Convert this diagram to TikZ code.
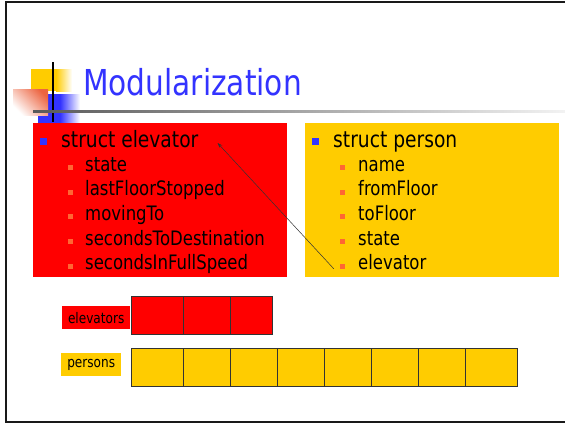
\documentclass[tikz,border=0pt]{standalone}
\usepackage{fontspec}
\setmainfont[FakeStretch=0.83]{DejaVu Sans}
\usetikzlibrary{arrows.meta}

\definecolor{elevred}{RGB}{255,0,0}
\definecolor{persyellow}{RGB}{255,204,0}
\definecolor{titleblue}{RGB}{51,51,255}
\definecolor{bulorange}{RGB}{255,102,51}
\definecolor{bulblue}{RGB}{51,51,255}
\definecolor{salmon}{RGB}{236,100,64}

\begin{document}
\begin{tikzpicture}[x=1pt,y=-1pt,
    topbul/.style={fill=bulblue,inner sep=0,minimum size=7pt},
    subbul/.style={fill=bulorange,inner sep=0,minimum size=5pt},
    headtxt/.style={anchor=base west,inner sep=0,font=\fontsize{22.5}{27}\selectfont},
    itemtxt/.style={anchor=base west,inner sep=0,font=\fontsize{19.9}{23}\selectfont},
    structbox/.style={anchor=north west,inner sep=0,minimum width=254pt,minimum height=154pt},
    cell/.style={draw=black!80,line width=1pt,anchor=north west,inner sep=0,minimum height=38pt},
    tag/.style={anchor=north west,inner sep=0,minimum height=23pt,font=\fontsize{14.6}{17}\selectfont}]
    \useasboundingbox (0,0) rectangle (565,424);
    % slide frame
    \draw[line width=2.5pt,black!90] (570,2) -- (6,2) -- (6,422) -- (570,422);

    % title decoration
    \fill[persyellow] (31,69) rectangle (56,91);
    \shade[left color=persyellow,right color=white] (56,69) rectangle (72,91);
    \fill[bulblue] (38,94) rectangle (60,123);
    \shade[left color=bulblue,right color=white] (60,94) rectangle (80,123);
    \shade[top color=salmon,bottom color=white,shading angle=-45] (13,89) rectangle (48,115);
    \draw[line width=1.5pt] (53,62) -- (53,122);
    \shade[left color=black!65,right color=black!5] (33,110.3) rectangle (565,112);
    \node[anchor=base west,inner sep=0,text=titleblue,font=\fontsize{35.7}{40}\selectfont] (title) at (83,95) {Modularization};

    % struct elevator
    \node[structbox,fill=elevred] (elevbox) at (33,123) {};
    \node[topbul] (eb0) at (43.5,141) {};
    \node[headtxt] (etitle) at (61,147) {struct elevator};
    \foreach \txt [count=\i] in {state,lastFloorStopped,movingTo,secondsToDestination,secondsInFullSpeed} {
        \node[subbul] (eb\i) at (70.5,{142.8+24.7*\i}) {};
        \node[itemtxt] (e\i) at (85,{146.3+24.7*\i}) {\txt};
    }

    % struct person
    \node[structbox,fill=persyellow] (persbox) at (305,123) {};
    \node[topbul] (pb0) at (315.5,141) {};
    \node[headtxt] (ptitle) at (333,147) {struct person};
    \foreach \txt [count=\i] in {name,fromFloor,toFloor,state,elevator} {
        \node[subbul] (pb\i) at (342.5,{142.8+24.7*\i}) {};
        \node[itemtxt] (p\i) at (358,{146.3+24.7*\i}) {\txt};
    }

    \draw[-{Stealth[length=5pt,width=3.5pt]},black!80,line width=0.5pt] ([xshift=-6pt,yshift=-2.5pt]pb5.west) -- ([xshift=19pt,yshift=4pt]etitle.base east);

    % arrays
    \node[tag,fill=elevred,minimum width=68pt] (etag) at (62,306) {elevators};
    \foreach \a/\b [count=\i] in {131/183,183/230,230/272}
        \node[cell,fill=elevred,minimum width={(\b-\a)*1pt}] (ecell\i) at (\a,296) {};
    \node[tag,fill=persyellow,minimum width=60pt] (ptag) at (61,353) {persons};
    \foreach \a/\b [count=\i] in {131/183,183/230,230/277,277/324,324/371,371/418,418/465,465/517}
        \node[cell,fill=persyellow,minimum width={(\b-\a)*1pt}] (pcell\i) at (\a,348) {};
\end{tikzpicture}
\end{document}
